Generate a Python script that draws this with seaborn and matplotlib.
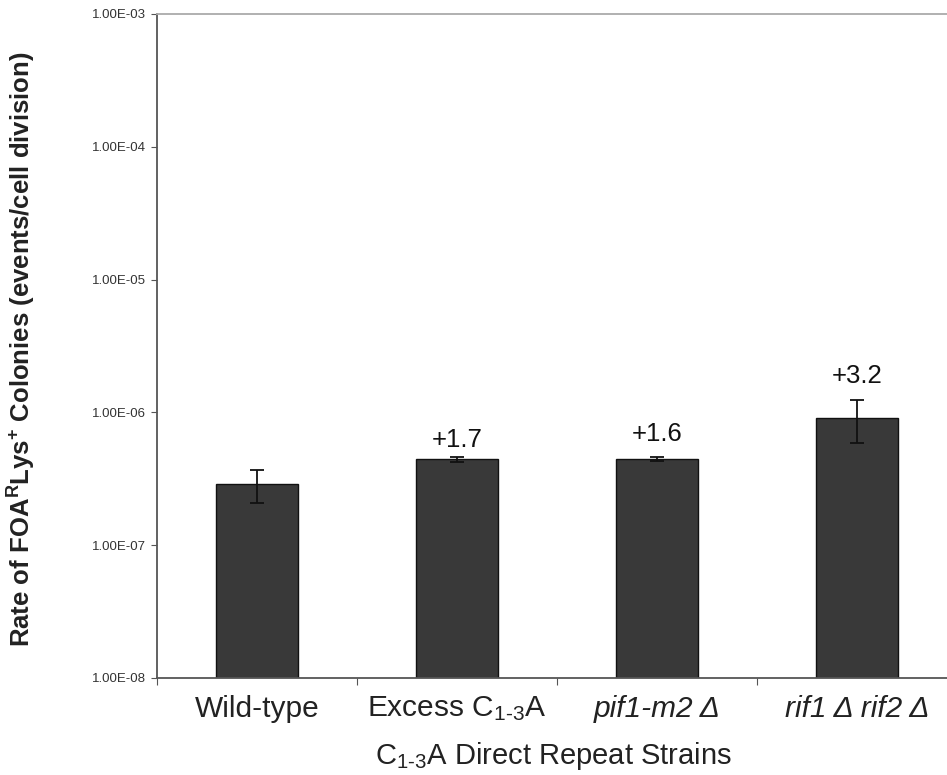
import numpy as np
import pandas as pd
import matplotlib
matplotlib.use("Agg")
import matplotlib.pyplot as plt
import seaborn as sns
from matplotlib.ticker import FixedLocator, FuncFormatter, NullLocator

# Recombination rates of the C1-3A direct repeat strains
strains = ["Wild-type", "Excess C$_{1\\text{-}3}$A", "pif1-m2 Δ", "rif1 Δ rif2 Δ"]
rates = [2.88e-7, 4.45e-7, 4.45e-7, 9.1e-7]
errors = [0.8e-7, 0.2e-7, 0.15e-7, 3.2e-7]
fold_labels = ["", "+1.7", "+1.6", "+3.2"]
italic = [False, False, True, True]

# vertical gap (points) between each fold label and its error bar
label_gap = [0, 3, 8, 9]

sns.set_theme(style="white")
plt.rcParams["font.family"] = ["Liberation Sans", "DejaVu Sans"]
plt.rcParams["mathtext.fontset"] = "custom"
plt.rcParams["mathtext.rm"] = "Liberation Sans"
plt.rcParams["mathtext.it"] = "Liberation Sans:italic"
plt.rcParams["mathtext.bf"] = "Liberation Sans:bold"

df = pd.DataFrame({"strain": strains, "rate": rates})

fig = plt.figure(figsize=(9.47, 7.75), dpi=100)
ax = fig.add_axes([157 / 947, 97 / 775, 800 / 947, 664 / 775])

sns.barplot(data=df, x="strain", y="rate", color="#393939", saturation=1,
            width=0.41, edgecolor="#111111", linewidth=1.0, errorbar=None, ax=ax)
ax.set_yscale("log")
ax.set_ylim(1e-8, 1e-3)
ax.set_xlim(-0.5, 3.5)

xpos = np.arange(len(strains))
ax.errorbar(xpos, rates, yerr=errors, fmt="none", ecolor="#111111",
            elinewidth=1.3, capsize=5, capthick=1.3, zorder=5)

for x, r, e, lab, gap in zip(xpos, rates, errors, fold_labels, label_gap):
    if lab:
        ax.annotate(lab, (x, r + e), xytext=(0, gap), textcoords="offset points",
                    ha="center", va="bottom", fontsize=18.5, color="#111111")

# y axis: decade ticks in Excel-style scientific notation
ax.yaxis.set_major_locator(FixedLocator([1e-8, 1e-7, 1e-6, 1e-5, 1e-4, 1e-3]))
ax.yaxis.set_minor_locator(NullLocator())
ax.yaxis.set_major_formatter(FuncFormatter(lambda v, p: f"{v:.2E}"))
ax.tick_params(axis="y", which="major", direction="out", length=4, width=0.8,
               color="#555555", labelsize=9.5, labelcolor="#333333", pad=4, left=True)

# x axis: category labels centred, tick marks at category boundaries
ax.set_xticks(xpos)
ax.set_xticklabels(strains)
for t, it in zip(ax.get_xticklabels(), italic):
    if it:
        t.set_style("italic")
ax.xaxis.set_minor_locator(FixedLocator([-0.5, 0.5, 1.5, 2.5]))
ax.tick_params(axis="x", which="major", length=0, labelsize=21.5,
               labelcolor="#222222", pad=12)
ax.tick_params(axis="x", which="minor", direction="out", length=5, width=0.8,
               color="#555555", bottom=True)

ax.set_xlabel("C$_{1\\text{-}3}$A Direct Repeat Strains", fontsize=21,
              color="#222222")
ax.xaxis.set_label_coords(0.496, -0.093)
ax.set_ylabel("Rate of FOA$^{\\mathbf{R}}$Lys$^{\\mathbf{+}}$ Colonies (events/cell division)",
              fontsize=18.5, fontweight="bold", color="#222222")
ax.yaxis.set_label_coords(-0.149, 0.495)

for side in ["left", "bottom"]:
    ax.spines[side].set_color("#555555")
    ax.spines[side].set_linewidth(1.3)
ax.spines["top"].set_color("#aaaaaa")
ax.spines["top"].set_linewidth(1.3)
ax.spines["right"].set_visible(False)

fig.savefig("out.png", dpi=100, facecolor="white")
